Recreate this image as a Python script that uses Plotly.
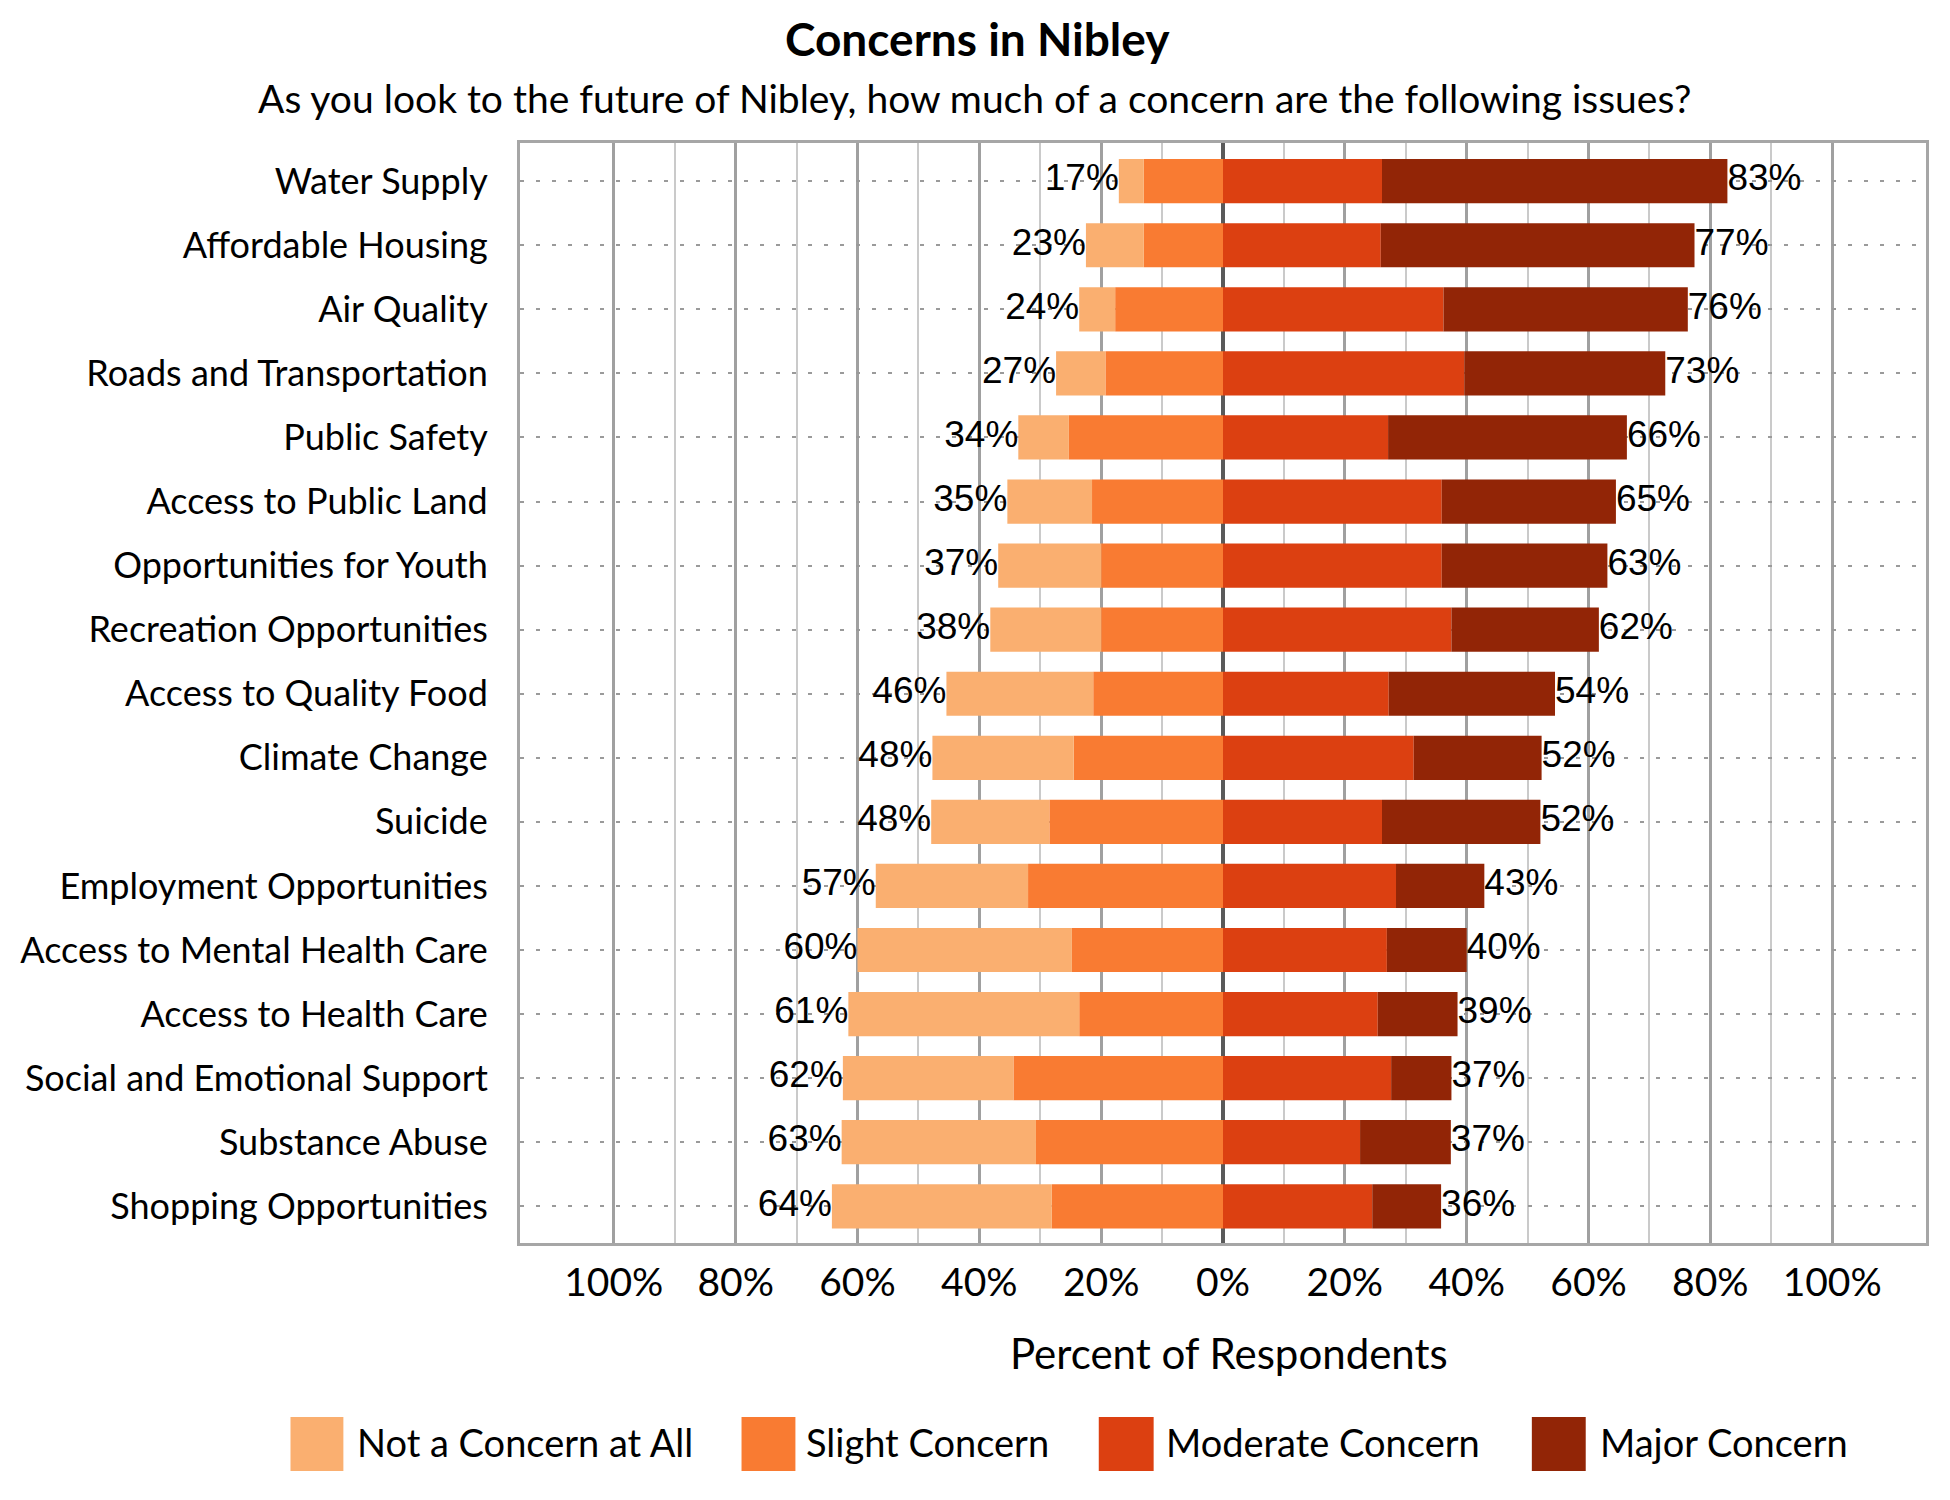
import plotly.graph_objects as go

categories = [
    "Water Supply", "Affordable Housing", "Air Quality", "Roads and Transportation",
    "Public Safety", "Access to Public Land", "Opportunities for Youth",
    "Recreation Opportunities", "Access to Quality Food", "Climate Change", "Suicide",
    "Employment Opportunities", "Access to Mental Health Care", "Access to Health Care",
    "Social and Emotional Support", "Substance Abuse", "Shopping Opportunities",
]
not_concern = [4.1, 9.5, 5.9, 8.1, 8.3, 13.9, 16.9, 18.2, 24.1, 23.2, 19.4, 25.0, 35.2, 37.9, 28.0, 31.9, 36.1]
slight = [13.0, 13.0, 17.7, 19.3, 25.3, 21.5, 20.0, 20.0, 21.3, 24.5, 28.5, 32.0, 24.8, 23.6, 34.4, 30.7, 28.1]
moderate = [26.1, 25.9, 36.2, 39.6, 27.1, 35.9, 35.9, 37.5, 27.2, 31.3, 26.1, 28.4, 26.9, 25.4, 27.6, 22.5, 24.5]
major = [56.7, 51.5, 40.1, 33.0, 39.2, 28.6, 27.2, 24.2, 27.3, 21.0, 26.0, 14.5, 13.1, 13.1, 9.9, 14.9, 11.3]
left_labels = ["17%", "23%", "24%", "27%", "34%", "35%", "37%", "38%", "46%", "48%", "48%",
               "57%", "60%", "61%", "62%", "63%", "64%"]
right_labels = ["83%", "77%", "76%", "73%", "66%", "65%", "63%", "62%", "54%", "52%", "52%",
                "43%", "40%", "39%", "37%", "37%", "36%"]
tick_vals = [-100, -80, -60, -40, -20, 0, 20, 40, 60, 80, 100]
tick_text = ["100%", "80%", "60%", "40%", "20%", "0%", "20%", "40%", "60%", "80%", "100%"]
legend_names = ["Not a Concern at All", "Slight Concern", "Moderate Concern", "Major Concern"]
colors = ["#FAAF70", "#F97B32", "#DC4011", "#922506"]

FONT = "Lato"
W, H = 1950, 1500
OFF = 8  # page body margin
L, R, T, B = 517 - OFF, 1926 - OFF, 143 - OFF, 1243 - OFF


def px_x(px):
    # page pixel -> paper fraction
    return (px - OFF - L) / (R - L)


def px_y(py):
    return (B - (py - OFF)) / (B - T)


fig = go.Figure()
fig.add_trace(go.Bar(y=categories, x=[-v for v in slight], orientation="h",
                     marker=dict(color=colors[1], line_width=0), name=legend_names[1]))
fig.add_trace(go.Bar(y=categories, x=[-v for v in not_concern], orientation="h",
                     marker=dict(color=colors[0], line_width=0), name=legend_names[0]))
fig.add_trace(go.Bar(y=categories, x=moderate, orientation="h",
                     marker=dict(color=colors[2], line_width=0), name=legend_names[2]))
fig.add_trace(go.Bar(y=categories, x=major, orientation="h",
                     marker=dict(color=colors[3], line_width=0), name=legend_names[3]))

left_tot = [-(a + b) for a, b in zip(not_concern, slight)]
right_tot = [a + b for a, b in zip(moderate, major)]
fig.add_trace(go.Scatter(y=categories, x=left_tot, mode="text", text=left_labels,
                         textposition="middle left", cliponaxis=False,
                         textfont=dict(family="Liberation Sans", size=37, color="black")))
fig.add_trace(go.Scatter(y=categories, x=right_tot, mode="text", text=right_labels,
                         textposition="middle right", cliponaxis=False,
                         textfont=dict(family="Liberation Sans", size=37, color="black")))

# legend drawn by hand (big square swatches)
sw = [(287, 340), (739, 793), (1097, 1152), (1531, 1585)]
txt_x = [352, 802, 1162, 1597]
for i in range(4):
    fig.add_shape(type="rect", xref="paper", yref="paper",
                  x0=px_x(sw[i][0]), x1=px_x(sw[i][1]), y0=px_y(1471), y1=px_y(1417),
                  fillcolor=colors[i], line_width=0)
    fig.add_annotation(text=legend_names[i], xref="paper", yref="paper",
                       x=px_x(txt_x[i]), y=px_y(1442), xanchor="left", yanchor="middle",
                       showarrow=False, font=dict(family=FONT, size=38, color="black"))

fig.add_annotation(text="<b>Concerns in Nibley</b>", xref="paper", yref="paper",
                   x=px_x(975), y=px_y(38), xanchor="center", yanchor="middle",
                   showarrow=False, font=dict(family=FONT, size=46, color="black"))
fig.add_annotation(text="As you look to the future of Nibley, how much of a concern are the following issues?",
                   xref="paper", yref="paper", x=px_x(972), y=px_y(98),
                   xanchor="center", yanchor="middle", showarrow=False,
                   font=dict(family=FONT, size=39, color="black"))
fig.add_annotation(text="Percent of Respondents", xref="paper", yref="paper",
                   x=px_x(1228), y=px_y(1353), xanchor="center", yanchor="middle",
                   showarrow=False, font=dict(family=FONT, size=42, color="black"))

fig.update_layout(
    width=W, height=H,
    barmode="relative", bargap=0.31,
    showlegend=False,
    plot_bgcolor="white", paper_bgcolor="white",
    margin=dict(l=L, r=W - R, t=T, b=H - B),
    font=dict(family=FONT, color="black"),
)
fig.update_xaxes(
    range=[-115.4, 115.4],
    tickvals=tick_vals, ticktext=tick_text,
    tickfont=dict(family=FONT, size=39, color="black"),
    showgrid=True, gridcolor="#A0A0A0", gridwidth=2.5,
    minor=dict(tickvals=[-90, -70, -50, -30, -10, 10, 30, 50, 70, 90],
               showgrid=True, gridcolor="#CACACA", gridwidth=1.5),
    zeroline=True, zerolinecolor="#5A5A5A", zerolinewidth=3.5,
    showline=True, linecolor="#A6A6A6", linewidth=3, mirror=True,
    ticks="", ticklabelstandoff=3,
)
fig.update_yaxes(
    categoryorder="array", categoryarray=categories,
    range=[len(categories) - 1 + 0.573, -0.596],
    tickfont=dict(family=FONT, size=36, color="black"),
    showgrid=True, gridcolor="#9A9A9A", gridwidth=2, griddash="4px,12px",
    showline=True, linecolor="#A6A6A6", linewidth=3, mirror=True,
    ticks="", ticklabelstandoff=22,
)

fig.write_html("out.html")
